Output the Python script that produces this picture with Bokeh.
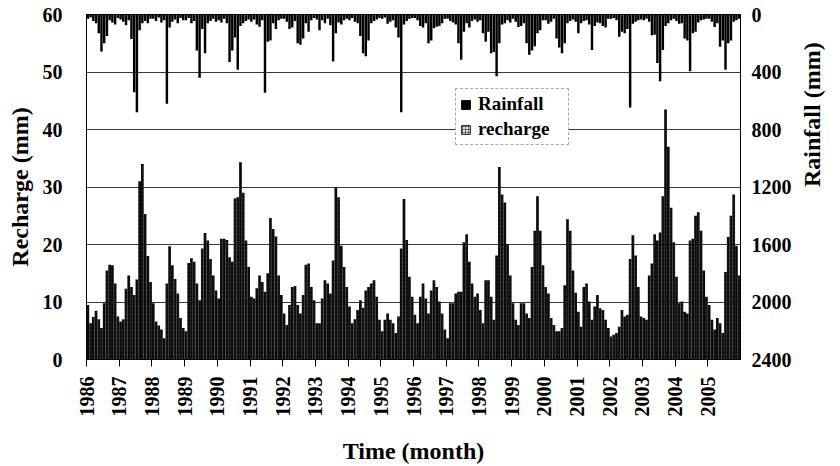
import math
import numpy as np
from bokeh.plotting import figure
from bokeh.models import Range1d, LinearAxis, FixedTicker, Legend, LegendItem
from bokeh.embed import file_html
from bokeh.resources import INLINE

# ---------------- data (monthly, 1986-2005) ----------------
years = list(range(1986, 2006))
year_labels = [str(y) for y in years]
recharge_ticks = [0, 10, 20, 30, 40, 50, 60]
rainfall_ticks = [0, 400, 800, 1200, 1600, 2000, 2400]

recharge_mm = [
    9.5, 6.3, 7.4, 8.5, 7.0, 5.5, 9.8, 15.5, 16.5, 16.4, 13.2, 7.5,        # 1986
    6.6, 7.0, 12.3, 14.6, 12.6, 11.2, 13.9, 31.0, 34.0, 25.3, 18.0, 13.5,  # 1987
    9.8, 6.6, 5.9, 5.2, 3.7, 13.2, 19.7, 16.4, 14.0, 11.5, 7.2, 5.5,       # 1988
    4.9, 16.8, 17.6, 17.0, 13.2, 10.3, 19.3, 22.0, 20.7, 17.5, 14.6, 12.0, # 1989
    10.6, 21.0, 21.0, 20.8, 17.8, 17.0, 28.0, 28.2, 34.3, 29.0, 20.7, 16.1,# 1990
    10.9, 10.6, 12.4, 14.6, 13.5, 11.8, 15.0, 24.6, 22.7, 21.4, 14.6, 11.2,# 1991
    8.0, 6.0, 9.5, 12.6, 12.8, 9.5, 8.0, 11.2, 16.5, 16.7, 12.6, 10.3,     # 1992
    6.3, 6.3, 10.6, 13.8, 13.2, 11.5, 17.2, 30.0, 28.2, 19.8, 16.1, 12.6,  # 1993
    9.2, 6.3, 7.0, 8.6, 10.3, 9.0, 12.0, 12.6, 13.2, 13.8, 10.9, 6.9,      # 1994
    4.9, 6.9, 8.0, 6.9, 6.3, 4.6, 7.5, 19.3, 27.9, 20.8, 14.4, 10.9,       # 1995
    7.8, 6.3, 10.9, 13.2, 10.6, 8.0, 12.0, 13.8, 12.6, 10.1, 8.0, 5.2,     # 1996
    3.7, 9.8, 9.8, 11.5, 11.8, 11.8, 20.4, 21.8, 17.0, 13.2, 10.9, 11.5,   # 1997
    8.6, 6.3, 13.8, 13.8, 10.9, 6.9, 18.1, 33.5, 28.7, 27.3, 20.1, 14.6,   # 1998
    9.8, 6.9, 6.0, 9.8, 9.8, 8.0, 7.2, 16.1, 22.4, 28.4, 22.4, 16.4,       # 1999
    12.6, 11.5, 7.2, 6.0, 4.9, 4.9, 5.5, 12.9, 24.4, 22.4, 15.5, 11.6,     # 2000
    8.3, 5.7, 12.6, 13.2, 10.1, 6.9, 9.2, 11.2, 8.9, 8.6, 6.9, 5.5,        # 2001
    4.0, 4.3, 4.6, 5.7, 8.6, 7.5, 7.8, 17.5, 21.6, 18.1, 12.6, 7.5,        # 2002
    7.2, 6.9, 14.6, 16.7, 21.8, 20.7, 22.1, 28.4, 43.5, 37.0, 26.4, 20.4,  # 2003
    14.4, 9.8, 10.1, 8.3, 8.0, 20.7, 21.0, 25.0, 25.6, 22.4, 15.5, 10.9,   # 2004
    9.5, 6.9, 5.2, 7.2, 6.3, 4.6, 15.2, 21.3, 25.0, 28.7, 19.8, 14.6,      # 2005
]

rainfall_mm = [
    30, 20, 45, 60, 130, 258, 200, 150, 40, 55, 70, 25,      # 1986
    35, 50, 75, 40, 170, 540, 680, 110, 60, 45, 60, 30,      # 1987
    30, 45, 20, 55, 40, 620, 90, 50, 35, 60, 25, 40,         # 1988
    40, 25, 60, 45, 250, 440, 100, 270, 60, 45, 30, 50,      # 1989
    40, 55, 30, 60, 330, 250, 160, 385, 80, 60, 45, 35,      # 1990
    50, 35, 70, 85, 40, 545, 190, 180, 60, 100, 40, 30,      # 1991
    30, 50, 100, 90, 45, 200, 210, 167, 60, 120, 40, 25,     # 1992
    35, 110, 40, 60, 30, 75, 327, 130, 55, 70, 40, 30,       # 1993
    40, 25, 50, 60, 150, 270, 290, 180, 60, 45, 35, 25,      # 1994
    30, 20, 64, 50, 40, 90, 160, 680, 70, 45, 30, 25,        # 1995
    25, 40, 80, 90, 60, 200, 180, 95, 85, 80, 60, 30,        # 1996
    30, 45, 55, 70, 200, 315, 120, 60, 90, 45, 35, 50,       # 1997
    40, 130, 190, 120, 270, 260, 430, 200, 70, 60, 40, 55,   # 1998
    30, 50, 87, 80, 60, 200, 280, 250, 220, 130, 110, 40,    # 1999
    40, 64, 50, 30, 167, 230, 270, 200, 60, 45, 35, 50,      # 2000
    130, 60, 45, 40, 70, 247, 80, 55, 60, 80, 90, 30,        # 2001
    30, 25, 40, 155, 120, 130, 100, 647, 64, 50, 40, 35,     # 2002
    40, 30, 50, 144, 140, 338, 464, 247, 80, 60, 40, 30,     # 2003
    45, 64, 60, 167, 180, 395, 130, 120, 55, 40, 35, 30,     # 2004
    30, 50, 87, 60, 224, 180, 384, 200, 180, 50, 40, 30,     # 2005
]

legend_labels = ["Rainfall", "recharge"]

# month positions (decimal years, centred in each month)
n = len(recharge_mm)
month_x = years[0] + (np.arange(n) + 0.5) / 12.0

FONT = "Liberation Serif"

p = figure(width=840, height=466, output_backend="svg", toolbar_location=None,
           x_range=Range1d(1986, 2006), y_range=Range1d(0, 60),
           min_border_left=86, min_border_right=99, min_border_top=14,
           min_border_bottom=103, background_fill_color="white",
           border_fill_color="white", outline_line_color="black",
           outline_line_width=1)
p.extra_y_ranges = {"rain": Range1d(2400, 0)}

# grid
p.xgrid.grid_line_color = None
p.ygrid.ticker = FixedTicker(ticks=[10, 20, 30, 40, 50])
p.ygrid.grid_line_color = "#3a3a3a"
p.ygrid.grid_line_width = 1

# bars
rech = p.vbar(x=month_x, top=recharge_mm, bottom=0, width=1 / 12.0,
              fill_color="#0a0a0a", line_color=None,
              hatch_pattern="dot", hatch_color="#8a8a8a", hatch_scale=4,
              hatch_weight=0.5, hatch_alpha=0.2)
rain = p.vbar(x=month_x, top=rainfall_mm, bottom=0, width=0.9 / 12.0,
              y_range_name="rain", fill_color="black", line_color=None)

# legend swatches (one point placed outside the visible x range)
rain_sw = p.vbar(x=[1900], top=[1], bottom=0, width=0.1,
                 fill_color="black", line_color="black")
rech_sw = p.vbar(x=[1900], top=[1], bottom=0, width=0.1,
                 fill_color="#e6e6e6", line_color="#222222",
                 hatch_pattern="+", hatch_color="#555555", hatch_scale=3,
                 hatch_weight=0.8)

# axes
xa = p.xaxis[0]
xa.ticker = FixedTicker(ticks=years)
xa.major_label_overrides = {y: s for y, s in zip(years, year_labels)}
xa.major_label_orientation = math.pi / 2
xa.major_tick_out = 7
xa.major_tick_in = 0
xa.minor_tick_line_color = None
xa.major_label_standoff = 10
xa.axis_label = "Time (month)"
xa.axis_label_standoff = 18

ya = p.yaxis[0]
ya.ticker = FixedTicker(ticks=recharge_ticks)
ya.major_tick_out = 0
ya.major_tick_in = 0
ya.minor_tick_line_color = None
ya.major_label_standoff = 24
ya.axis_label = "Recharge (mm)"
ya.axis_label_standoff = 7

ra = LinearAxis(y_range_name="rain", ticker=FixedTicker(ticks=rainfall_ticks),
                axis_label="Rainfall (mm)")
ra.major_tick_out = 0
ra.major_tick_in = 0
ra.minor_tick_line_color = None
ra.major_label_standoff = 11
ra.axis_label_standoff = 17
ra.axis_label_orientation = math.pi / 2
p.add_layout(ra, "right")

for ax in (xa, ya, ra):
    ax.axis_line_color = "black"
    ax.axis_line_width = 1
    ax.major_tick_line_color = "black"
    ax.major_label_text_font = FONT
    ax.major_label_text_font_style = "bold"
    ax.major_label_text_font_size = "20px"
    ax.major_label_text_color = "black"
    ax.axis_label_text_font = FONT
    ax.axis_label_text_font_style = "bold"
    ax.axis_label_text_font_size = "24px"
    ax.axis_label_text_color = "black"

legend = Legend(items=[LegendItem(label=legend_labels[0], renderers=[rain_sw]),
                       LegendItem(label=legend_labels[1], renderers=[rech_sw])],
                location=(369, 214), orientation="vertical",
                padding=4, spacing=3, margin=0,
                glyph_width=11, glyph_height=11, label_standoff=7,
                label_height=20, label_width=86,
                label_text_font=FONT, label_text_font_style="bold",
                label_text_font_size="19px", label_text_color="black",
                border_line_color="#555555", border_line_dash="2 2",
                border_line_width=1, background_fill_color="white",
                background_fill_alpha=1.0)
p.add_layout(legend, "center")

open("out.html", "w").write(file_html(p, INLINE))
